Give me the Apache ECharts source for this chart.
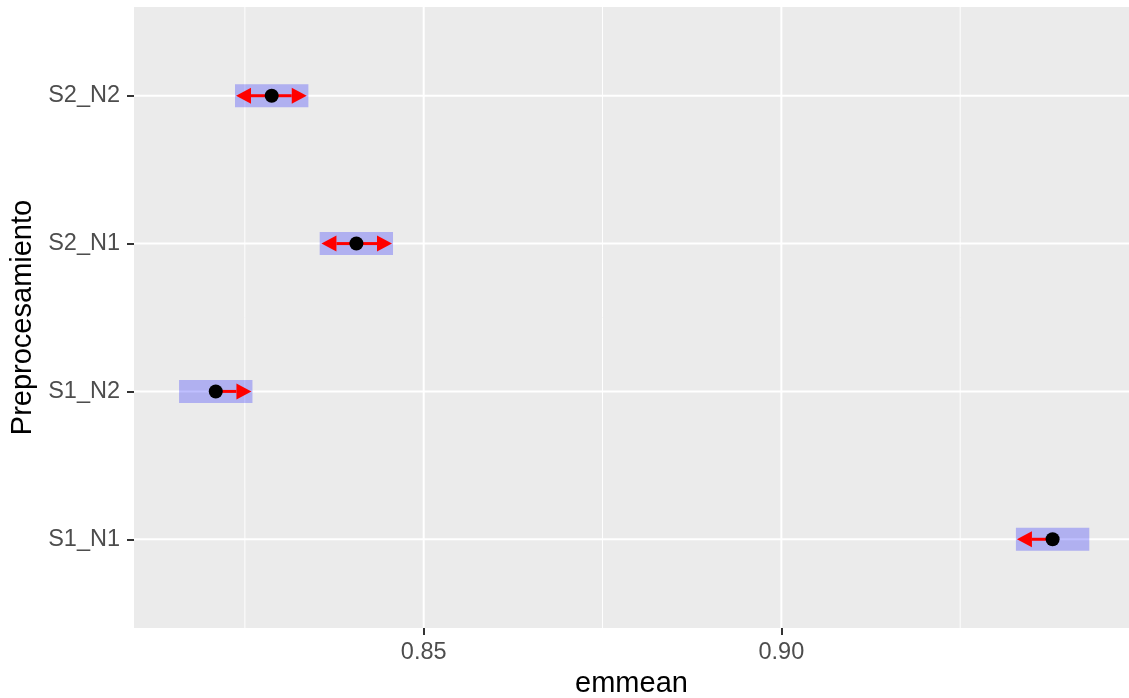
<!DOCTYPE html>
<html>
<head>
<meta charset="utf-8">
<script src="https://cdn.jsdelivr.net/npm/echarts@6/dist/echarts.min.js"></script>
<style>html,body{margin:0;padding:0;background:#fff}#c{width:1129px;height:698px}</style>
</head>
<body>
<div id="c"></div>
<script>
// ---- data (bottom to top) ----
const categories = ['S1_N1', 'S1_N2', 'S2_N1', 'S2_N2'];
const emmean     = [0.93792, 0.82093, 0.84059, 0.82875];
const lowerCL    = [0.93279, 0.81580, 0.83546, 0.82362];
const upperCL    = [0.94305, 0.82606, 0.84571, 0.83388];
const arrowLeft  = [0.93293, null,    0.83570, 0.82376];
const arrowRight = [null,    0.82592, 0.84557, 0.83365];
const xTicks = [0.85, 0.90];
const xMinorTicks = [0.825, 0.875, 0.925];
const yTicks = [1, 2, 3, 4];

const FONT = 'Liberation Sans, Arial, Helvetica, sans-serif';
const chart = echarts.init(document.getElementById('c'), null, {renderer: 'canvas'});

const rectData = categories.map((c, i) => [lowerCL[i], upperCL[i], i + 1]);
const arrowData = [];
categories.forEach((c, i) => {
  if (arrowLeft[i] != null) arrowData.push([emmean[i], arrowLeft[i], i + 1]);
  if (arrowRight[i] != null) arrowData.push([emmean[i], arrowRight[i], i + 1]);
});
const pointData = categories.map((c, i) => [emmean[i], i + 1]);

// gridline specs: [xValue, yValue, orientation(0 = vertical, 1 = horizontal), lineWidth]
const gridData = [];
xMinorTicks.forEach(v => gridData.push([v, 1, 0, 1]));
xTicks.forEach(v => gridData.push([v, 1, 0, 2]));
yTicks.forEach(v => gridData.push([0.85, v, 1, 2]));

const option = {
  animation: false,
  backgroundColor: '#FFFFFF',
  grid: {left: 134, right: 0, top: 7, bottom: 70, show: true, backgroundColor: '#EBEBEB', borderWidth: 0,
    containLabel: false, outerBoundsMode: 'none'},
  xAxis: {
    type: 'value', min: 0.8095, max: 0.9486,
    name: 'emmean', nameLocation: 'middle', nameGap: 38,
    nameTextStyle: {fontFamily: FONT, fontSize: 29, color: '#000'},
    axisLine: {show: false},
    axisTick: {show: true, length: 7, lineStyle: {color: '#333333', width: 2}, customValues: xTicks},
    axisLabel: {fontFamily: FONT, fontSize: 23.5, color: '#4D4D4D', margin: 13, customValues: xTicks,
      formatter: v => v.toFixed(2)},
    splitLine: {show: false}
  },
  yAxis: {
    type: 'value', min: 0.4, max: 4.6,
    name: 'Preprocesamiento', nameLocation: 'middle', nameGap: 96, nameRotate: 90,
    nameTextStyle: {fontFamily: FONT, fontSize: 29, color: '#000'},
    axisLine: {show: false},
    axisTick: {show: true, length: 7, lineStyle: {color: '#333333', width: 2}, customValues: yTicks},
    axisLabel: {fontFamily: FONT, fontSize: 23.5, color: '#4D4D4D', margin: 14, customValues: yTicks,
      formatter: v => categories[Math.round(v) - 1] || ''},
    splitLine: {show: false}
  },
  series: [
    {
      type: 'custom', data: gridData, z: 1, silent: true, clip: false,
      renderItem: (params, api) => {
        const cs = params.coordSys;
        const p = api.coord([api.value(0), api.value(1)]);
        const w = api.value(3);
        const shape = api.value(2) === 0
          ? {x1: p[0], y1: cs.y, x2: p[0], y2: cs.y + cs.height}
          : {x1: cs.x, y1: p[1], x2: cs.x + cs.width, y2: p[1]};
        return {type: 'line', shape: shape, style: {stroke: '#FFFFFF', lineWidth: w}};
      }
    },
    {
      type: 'custom', data: rectData, z: 2,
      renderItem: (params, api) => {
        const p1 = api.coord([api.value(0), api.value(2)]);
        const p2 = api.coord([api.value(1), api.value(2)]);
        const h = 23;
        return {type: 'rect', shape: {x: p1[0], y: p1[1] - h / 2, width: p2[0] - p1[0], height: h},
          style: {fill: 'rgba(0,0,255,0.25)'}};
      }
    },
    {
      type: 'custom', data: arrowData, z: 3,
      renderItem: (params, api) => {
        const a = api.coord([api.value(0), api.value(2)]);
        const b = api.coord([api.value(1), api.value(2)]);
        const dir = b[0] > a[0] ? 1 : -1;
        const L = 15, H = 8;
        const base = b[0] - dir * L;
        return {type: 'group', children: [
          {type: 'line', shape: {x1: a[0], y1: a[1], x2: base, y2: b[1]}, style: {stroke: '#FF0000', lineWidth: 3}},
          {type: 'polygon', shape: {points: [[b[0], b[1]], [base, b[1] - H], [base, b[1] + H]]}, style: {fill: '#FF0000'}}
        ]};
      }
    },
    {
      type: 'scatter', data: pointData, symbol: 'circle', symbolSize: 14, z: 4,
      itemStyle: {color: '#000000', opacity: 1}
    }
  ]
};
chart.setOption(option);
</script>
</body>
</html>
